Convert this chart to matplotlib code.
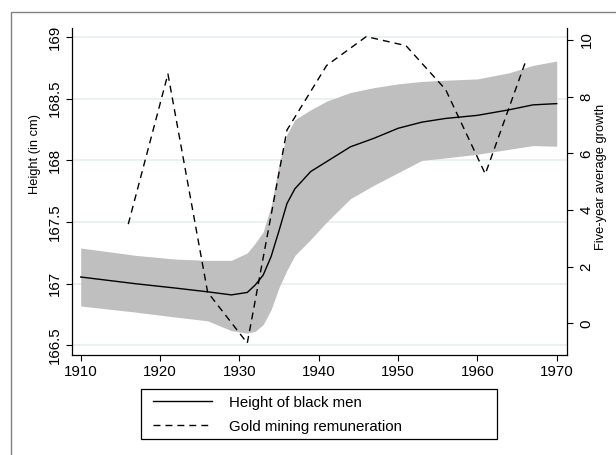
import matplotlib
matplotlib.use("Agg")
import matplotlib.pyplot as plt
from matplotlib.lines import Line2D
from matplotlib.patches import Rectangle

plt.rcParams['font.family'] = ['Liberation Sans', 'DejaVu Sans']

# ---- data ----
years = [1910, 1917, 1922, 1926, 1929, 1931, 1932, 1933, 1934, 1935, 1936, 1937,
         1939, 1941, 1944, 1947, 1950, 1953, 1956, 1960, 1964, 1967, 1970]
height = [167.055, 167.00, 166.965, 166.935, 166.91, 166.93, 166.99, 167.07, 167.22,
          167.43, 167.65, 167.77, 167.91, 167.99, 168.11, 168.18, 168.26, 168.31,
          168.34, 168.365, 168.41, 168.45, 168.46]
upper = [167.29, 167.23, 167.20, 167.19, 167.19, 167.25, 167.33, 167.42, 167.63,
         167.97, 168.21, 168.33, 168.41, 168.48, 168.55, 168.59, 168.62, 168.64,
         168.65, 168.66, 168.71, 168.77, 168.805]
lower = [166.82, 166.77, 166.73, 166.70, 166.62, 166.60, 166.615, 166.67, 166.79,
         166.97, 167.11, 167.23, 167.36, 167.50, 167.69, 167.80, 167.90, 168.00,
         168.02, 168.05, 168.09, 168.12, 168.115]

gold_years = [1916, 1921, 1926, 1931, 1936, 1941, 1946, 1951, 1956, 1961, 1966]
gold_growth = [3.5, 8.8, 1.1, -0.7, 6.82, 9.1, 10.12, 9.8, 8.25, 5.27, 9.18]

xticks = [1910, 1920, 1930, 1940, 1950, 1960, 1970]
yticks_left = [166.5, 167, 167.5, 168, 168.5, 169]
yticklabels_left = ["166.5", "167", "167.5", "168", "168.5", "169"]
yticks_right = [0, 2, 4, 6, 8, 10]

W, H = 616, 455
fig = plt.figure(figsize=(W / 100, H / 100), dpi=100)

def fx(px):
    return px / W

def fy(py):
    return 1 - py / H

# outer graph border (cropped on right/bottom)
fig.patches.append(Rectangle((fx(10.7), -0.1), 1.2, fy(11.7) + 0.1, fill=False,
                             edgecolor='#808080', lw=1.0, transform=fig.transFigure))

L, R, T, B = 71.7, 566.7, 27.5, 354.5
ax = fig.add_axes([fx(L), fy(B), fx(R - L), (B - T) / H])
ax2 = ax.twinx()

ax.set_xlim(1908.87, 1971.26)
ax.set_ylim(166.427, 169.077)
ax2.set_ylim(-1.101, 10.441)

ax.yaxis.grid(True, color='#E3EDEF', lw=1.1, zorder=0)
ax.set_axisbelow(True)

ax.fill_between(years, lower, upper, color='#BFBFBF', lw=0, zorder=2)
ax.plot(years, height, color='black', lw=1.0, zorder=3)
ax2.plot(gold_years, gold_growth, color='black', lw=1.0, linestyle=(0, (5, 3.6)))

for a in (ax, ax2):
    a.spines['top'].set_visible(False)
    for s in a.spines.values():
        s.set_linewidth(0.9)
ax.spines['right'].set_visible(False)
ax2.spines['left'].set_visible(False)
ax2.spines['bottom'].set_visible(False)

ax.set_xticks(xticks)
ax.set_xticklabels([str(v) for v in xticks])
ax.set_yticks(yticks_left)
ax.set_yticklabels(yticklabels_left, rotation=90, va='center')
ax2.set_yticks(yticks_right)
ax2.set_yticklabels([str(v) for v in yticks_right], rotation=90, va='center')

ax.tick_params(axis='x', length=4.3, width=0.8, pad=3.6, labelsize=10.8)
ax.tick_params(axis='y', length=4.3, width=0.8, pad=3.0, labelsize=10.8)
ax2.tick_params(axis='y', length=4.3, width=0.8, pad=5.0, labelsize=10.8)

fig.text(fx(35), fy(154), "Height (in cm)", rotation=90, ha='center', va='center',
         fontsize=9.3)
fig.text(fx(601), fy(176.5), "Five-year average growth", rotation=90, ha='center',
         va='center', fontsize=9.3)

# legend frame and entries
fig.patches.append(Rectangle((fx(140.7), fy(439.3)), fx(496.7 - 140.7), (439.3 - 389.3) / H,
                             fill=False, edgecolor='black', lw=0.9,
                             transform=fig.transFigure))
handles = [Line2D([], [], color='black', lw=1.0),
           Line2D([], [], color='black', lw=1.0, linestyle=(0, (5, 3.6)))]
fig.legend(handles, ["Height of black men", "Gold mining remuneration"],
           loc='center left', bbox_to_anchor=(fx(153), fy(414.65)),
           frameon=False, fontsize=10.8, borderpad=0, borderaxespad=0,
           handlelength=3.91, handletextpad=1.14, labelspacing=0.66)

fig.savefig("out.png", dpi=100)
